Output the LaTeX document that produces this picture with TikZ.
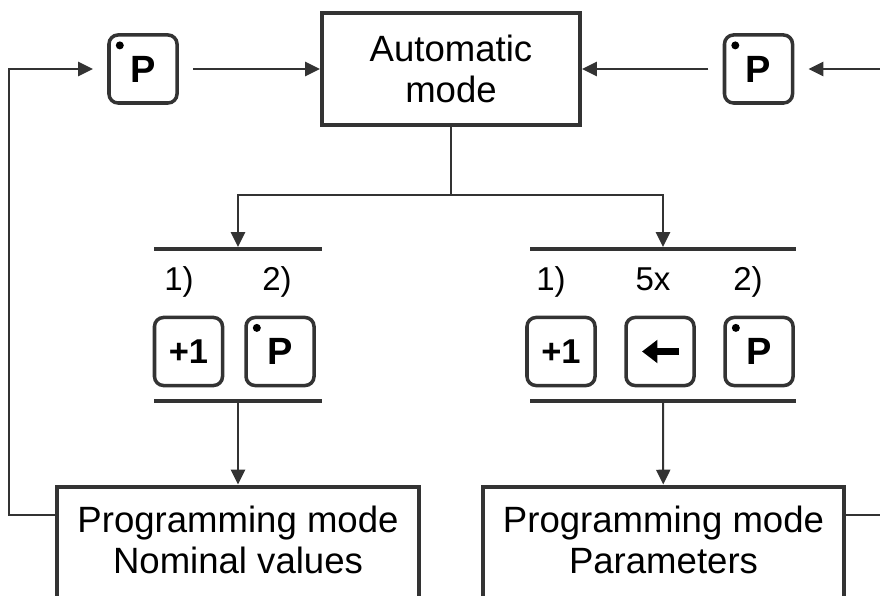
\documentclass[tikz,border=0pt]{standalone}
\usepackage{fontspec}
\setmainfont{Liberation Sans}
\usepackage{xcolor}
\usepackage{tikz}
\usetikzlibrary{arrows.meta}
\definecolor{linegray}{HTML}{333333}

\begin{document}
\begin{tikzpicture}[x=0.025cm, y=-0.025cm,
    modebox/.style={draw=linegray, line width=2.85pt, align=center, font=\fontsize{26}{29.5}\selectfont},
    keybox/.style={draw=linegray, line width=2.5pt, rounded corners=0.225cm, minimum size=1.7cm, inner sep=0pt, outer sep=0.4cm, font=\fontsize{24.5}{28}\bfseries\selectfont},
    pkey/.style={keybox, font=\fontsize{27}{30}\bfseries\selectfont, path picture={\fill ([xshift=0.27cm,yshift=-0.26cm]path picture bounding box.north west) circle (0.1cm);}},
    bar/.style={fill=linegray, minimum height=0.1cm, inner sep=0pt, outer sep=0pt},
    steplabel/.style={anchor=base, font=\fontsize{23.5}{28}\selectfont},
    conn/.style={draw=linegray, line width=1.4pt, -{Triangle[length=10.5pt, width=10pt]}},
    wire/.style={draw=linegray, line width=1.4pt}]

    \useasboundingbox (0,0) rectangle (880,596);
    \clip (0,0) rectangle (880,596);

    % top row
    \node[modebox, minimum width=6.45cm, minimum height=2.8cm] (auto) at (451,69) {Automatic\\mode};
    \node[pkey] (pleft) at (143,69) {P};
    \node[pkey] (pright) at (758.5,69) {P};

    % nominal values branch
    \node[bar, minimum width=4.2cm] (nomtop) at (238,249) {};
    \node[keybox] (nomplus) at (188.5,351.5) {+1};
    \node[pkey, right of=nomplus, node distance=2.2875cm] (nomP) {P};
    \node[steplabel] (nomone) at (179,291) {1)};
    \node[steplabel] (nomtwo) at (277,291) {2)};
    \node[bar, minimum width=4.2cm] (nombot) at (238,401) {};
    \node[modebox, anchor=north, minimum width=9.025cm, inner xsep=0pt, inner ysep=0.48cm, text depth=2cm] (prognom) at (238,484.5) {Programming mode\\Nominal values};

    % parameters branch
    \node[bar, minimum width=6.65cm] (partop) at (663,249) {};
    \node[keybox] (parplus) at (561,351.5) {+1};
    \node[keybox, right of=parplus, node distance=2.475cm] (parback) {};
    \node[pkey, right of=parback, node distance=2.475cm] (parP) {P};
    \draw[black, line width=5pt, -{Triangle[length=11pt, width=16pt]}] ([xshift=0.475cm]parback.center) -- ([xshift=-0.45cm]parback.center);
    \node[steplabel] (parone) at (551,291) {1)};
    \node[steplabel] (parfive) at (653,291) {5x};
    \node[steplabel] (partwo) at (748,291) {2)};
    \node[bar, minimum width=6.65cm] (parbot) at (663,401) {};
    \node[modebox, anchor=north, minimum width=9.025cm, inner xsep=0pt, inner ysep=0.48cm, text depth=2cm] (progpar) at (663.5,484.5) {Programming mode\\Parameters};

    % connectors
    \coordinate (split) at (451,195);
    \draw[wire] (auto) -- (split);
    \draw[conn] (split) -| (nomtop);
    \draw[conn] (split) -| (partop);
    \draw[conn] (nombot) -- (prognom);
    \draw[conn] (parbot) -- (progpar);
    \draw[conn] (pleft) -- (auto);
    \draw[conn] (pright) -- (auto);
    \coordinate (nomloop) at (9,515);
    \coordinate (parloop) at (895,515);
    \draw[conn] (prognom.west |- nomloop) -- (nomloop) |- (pleft);
    \draw[conn] (progpar.east |- parloop) -- (parloop) |- (pright);
\end{tikzpicture}
\end{document}
